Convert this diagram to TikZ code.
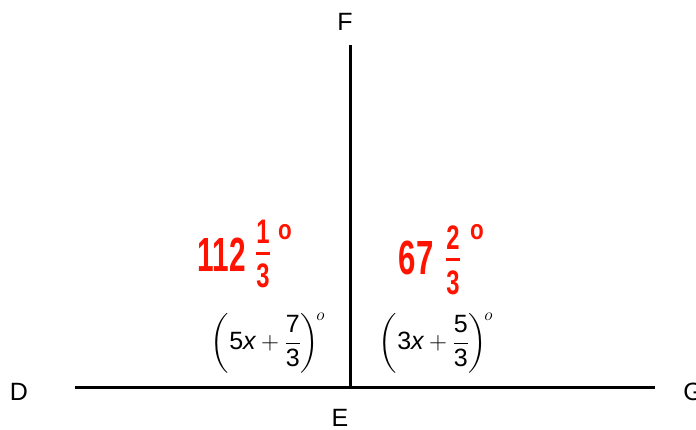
\documentclass[tikz,border=0pt]{standalone}
\usepackage{amsmath}
\usepackage{fontspec}
\setmainfont{Liberation Sans}
\tikzset{
  lbl/.style={font=\fontsize{25}{28}\selectfont, inner sep=0pt},
  expr/.style={font=\fontsize{25}{28}\selectfont, inner sep=0pt},
  hand/.style={text=red!85!orange, font=\fontsize{48}{50}\bfseries\selectfont, inner sep=0pt},
  handfrac/.style={text=red!85!orange, font=\fontsize{34}{34}\bfseries\selectfont, inner sep=0pt},
  handdeg/.style={text=red!85!orange, font=\fontsize{28}{28}\bfseries\selectfont, inner sep=0pt},
  seg/.style={line width=3pt}
}
\begin{document}
\begin{tikzpicture}[x=1pt,y=-1pt]
\useasboundingbox (0,0) rectangle (696,429);
\coordinate (D0) at (75,387);
\coordinate (G0) at (655,387);
\coordinate (E0) at (350,387);
\coordinate (F0) at (350,45);
\draw[seg] (D0) -- (G0);
\draw[seg] (E0) -- (F0);
\node[lbl] (D) at (19,392) {D};
\node[lbl] (G) at (693,392) {G};
\node[lbl] (E) at (340,418) {E};
\node[lbl] (F) at (345,22) {F};
\node[expr] (L) at (268,343) {$\displaystyle\left(\text{5}\textit{x} + \frac{\text{7}}{\text{3}}\right)^{\!o}$};
\node[expr] (R) at (436,343) {$\displaystyle\left(\text{3}\textit{x} + \frac{\text{5}}{\text{3}}\right)^{\!o}$};
% red handwritten values
\node[hand, xscale=0.62] (a1) at (222,255) {112};
\node[handfrac, xscale=0.7] (a2) at (263,254) {$\genfrac{}{}{3pt}{0}{\text{1}}{\text{3}}$};
\node[handdeg, xscale=0.8] (a3) at (285,232) {o};
\node[hand, xscale=0.65] (b1) at (416,258) {67};
\node[handfrac, xscale=0.7] (b2) at (453,260) {$\genfrac{}{}{3pt}{0}{\text{2}}{\text{3}}$};
\node[handdeg, xscale=0.8] (b3) at (477,232) {o};
\end{tikzpicture}
\end{document}
